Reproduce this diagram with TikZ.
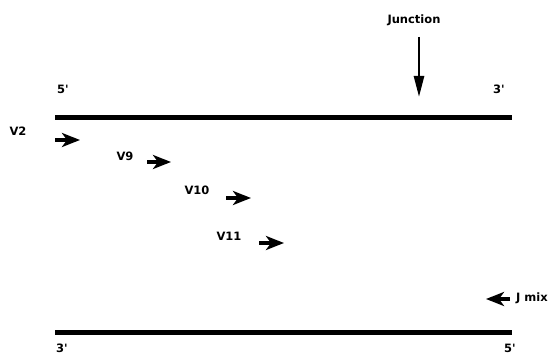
\documentclass[tikz,border=0pt]{standalone}
\usepackage{fontspec}
\setmainfont{DejaVu Sans}
\usetikzlibrary{arrows.meta}
\newcommand{\pr}{\textquotesingle}
\begin{document}
\begin{tikzpicture}[x=1pt,y=-1pt,
  lbl/.style={font=\bfseries\fontsize{11.5}{13}\selectfont, inner sep=0pt},
  strand/.style={line width=5pt},
  primer/.style={line width=3.6pt, -{Stealth[length=18pt,width=14pt,inset=5pt]}},
  junc/.style={line width=2.6pt, -{Triangle[length=21pt,width=10pt]}}]
\useasboundingbox (0,0) rectangle (555,355);
% strands
\coordinate (t1) at (55,118); \coordinate (t2) at (512,118);
\coordinate (b1) at (55,333); \coordinate (b2) at (512,333);
\draw[strand] (t1) -- (t2);
\draw[strand] (b1) -- (b2);
\node[lbl] (t5) at (63,89) {5\pr};
\node[lbl] (t3) at (499,89) {3\pr};
\node[lbl] (b3) at (62,348) {3\pr};
\node[lbl] (b5) at (510,348) {5\pr};
% junction
\node[lbl] (jt) at (414,20) {Junction};
\coordinate (ja) at (419,37); \coordinate (jb) at (419,97);
\draw[junc] (ja) -- (jb);
% primers
\node[lbl] (v2) at (18,131) {V2};
\coordinate (v2a) at (55,140); \coordinate (v2b) at (80,140);
\draw[primer] (v2a) -- (v2b);
\node[lbl] (v9) at (125,156) {V9};
\coordinate (v9a) at (147,162); \coordinate (v9b) at (171,162);
\draw[primer] (v9a) -- (v9b);
\node[lbl] (v10) at (197,190) {V10};
\coordinate (v10a) at (226,198); \coordinate (v10b) at (251,198);
\draw[primer] (v10a) -- (v10b);
\node[lbl] (v11) at (229,236) {V11};
\coordinate (v11a) at (259,243); \coordinate (v11b) at (284,243);
\draw[primer] (v11a) -- (v11b);
\node[lbl] (jm) at (532,298) {J mix};
\coordinate (jma) at (510,299); \coordinate (jmb) at (486,299);
\draw[primer] (jma) -- (jmb);
\end{tikzpicture}
\end{document}
